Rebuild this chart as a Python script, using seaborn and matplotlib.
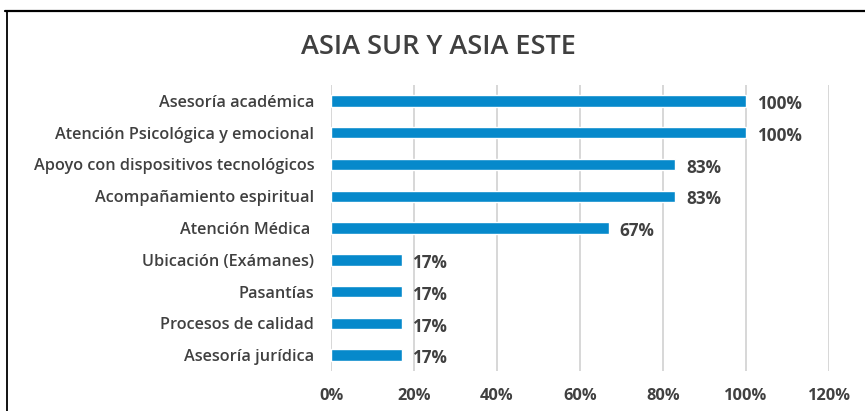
import matplotlib
matplotlib.use('Agg')
import matplotlib.pyplot as plt
import matplotlib.lines as mlines
import pandas as pd
import seaborn as sns

# data
categorias = [
    'Asesoría académica',
    'Atención Psicológica y emocional',
    'Apoyo con dispositivos tecnológicos',
    'Acompañamiento espiritual',
    'Atención Médica ',
    'Ubicación (Exámanes)',
    'Pasantías',
    'Procesos de calidad',
    'Asesoría jurídica',
]
porcentajes = [100, 100, 83, 83, 67, 17, 17, 17, 17]
ticks_x = [0, 20, 40, 60, 80, 100, 120]

df = pd.DataFrame({'categoria': categorias, 'valor': porcentajes})

sns.set_style('white')
plt.rcParams['font.family'] = ['Open Sans', 'DejaVu Sans']
texto = '#404040'

fig = plt.figure(figsize=(8.65, 4.11), dpi=100)
ax = fig.add_axes([0.3827, 0.0973, 0.5757, 0.6959])

sns.barplot(data=df, x='valor', y='categoria', color='#0689CB',
            width=0.36, orient='h', ax=ax, saturation=1)

ax.set_xlim(0, 120)
ax.set_xticks(ticks_x)
ax.set_xticklabels([f'{t}%' for t in ticks_x], fontsize=11.8, fontweight='bold', color=texto)
ax.tick_params(axis='x', length=0, pad=12)
ax.tick_params(axis='y', length=0, pad=12, labelsize=11.7, labelcolor=texto)
for lbl in ax.get_yticklabels():
    lbl.set_fontweight('semibold')
ax.set_xlabel('')
ax.set_ylabel('')
ax.grid(axis='x', color='#D4D4D4', linewidth=1.3)
ax.set_axisbelow(True)
for s in ax.spines.values():
    s.set_visible(False)

# data labels to the right of each bar
for i, v in enumerate(porcentajes):
    ax.text(v + 2.6, i + 0.1, f'{v}%', va='center', ha='left',
            fontsize=12.3, fontweight='bold', color=texto)

fig.text(0.507, 0.885, 'ASIA SUR Y ASIA ESTE', ha='center', va='center',
         fontsize=19.5, fontweight='semibold', color=texto)

# frame lines of the chart area (top and left)
fig.add_artist(mlines.Line2D([0.006, 1.0], [0.973, 0.973], color='black', linewidth=1.6))
fig.add_artist(mlines.Line2D([0.008, 0.008], [0.0, 0.973], color='black', linewidth=1.3))

fig.savefig('out.png', dpi=100)
